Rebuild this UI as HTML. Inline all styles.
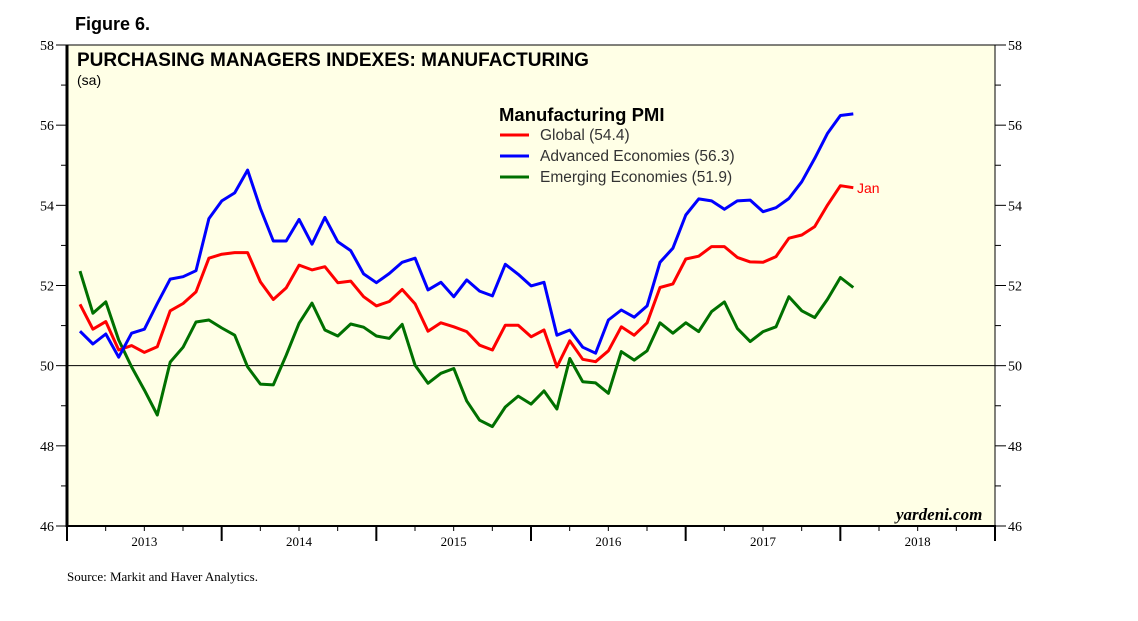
<!DOCTYPE html>
<html><head><meta charset="utf-8"><style>
body{margin:0;background:#fff;}
svg{display:block;font-family:"Liberation Sans",sans-serif;}
</style></head><body>
<svg id="chart" width="1138" height="621" viewBox="0 0 1138 621" xmlns="http://www.w3.org/2000/svg">
<rect x="0" y="0" width="1138" height="621" fill="#fff"/>
<text x="75" y="30" font-size="18" font-weight="bold">Figure 6.</text>
<rect x="67" y="45" width="928" height="481" fill="#FFFFE6" stroke="#000" stroke-width="1"/>
<line x1="67" y1="45" x2="67" y2="527" stroke="#000" stroke-width="3"/>
<line x1="66" y1="526" x2="996" y2="526" stroke="#000" stroke-width="2"/>
<g id="axes"></g>
<g id="series"></g>
<text x="77" y="66" font-size="19" font-weight="bold">PURCHASING MANAGERS INDEXES: MANUFACTURING</text>
<text x="77" y="85" font-size="14">(sa)</text>
<g>
<text x="499" y="121" font-size="18.5" font-weight="bold">Manufacturing PMI</text>
<line x1="500" y1="135" x2="529" y2="135" stroke="#f00" stroke-width="3"/>
<text x="540" y="140" font-size="15.5" fill="#333">Global (54.4)</text>
<line x1="500" y1="156" x2="529" y2="156" stroke="#00f" stroke-width="3"/>
<text x="540" y="161" font-size="15.5" fill="#333">Advanced Economies (56.3)</text>
<line x1="500" y1="177" x2="529" y2="177" stroke="#007000" stroke-width="3"/>
<text x="540" y="182" font-size="15.5" fill="#333">Emerging Economies (51.9)</text>
</g>
<text x="857" y="193" font-size="14" fill="#f00">Jan</text>
<text x="896" y="520" font-size="17" font-style="italic" font-weight="bold" font-family="Liberation Serif, serif">yardeni.com</text>
<text x="67" y="581" font-size="13" font-family="Liberation Serif, serif">Source: Markit and Haver Analytics.</text>
</svg>
<script>
const yTicks = [46,48,50,52,54,56,58];
const years = ["2013","2014","2015","2016","2017","2018"];
const globalPMI = [51.53,50.91,51.10,50.39,50.50,50.33,50.47,51.37,51.55,51.84,52.68,52.78,52.82,52.82,52.09,51.65,51.94,52.51,52.39,52.47,52.07,52.11,51.72,51.49,
51.60,51.90,51.54,50.86,51.07,50.97,50.85,50.51,50.39,51.01,51.01,50.72,50.89,49.97,50.62,50.16,50.10,50.37,50.97,50.76,51.07,51.95,
52.04,52.66,52.73,52.97,52.97,52.70,52.59,52.58,52.72,53.18,53.26,53.47,54.01,54.49,54.44];
const advancedPMI = [50.86,50.54,50.79,50.21,50.81,50.91,51.55,52.16,52.22,52.37,53.67,54.11,54.31,54.88,53.92,53.11,53.11,53.65,53.03,53.70,53.09,52.87,52.29,52.07,
52.30,52.58,52.68,51.89,52.08,51.72,52.14,51.86,51.74,52.53,52.28,51.99,52.08,50.76,50.89,50.46,50.31,51.14,51.39,51.21,51.49,52.58,
52.93,53.76,54.16,54.11,53.90,54.11,54.13,53.84,53.94,54.17,54.59,55.17,55.80,56.24,56.28];
const emergingPMI = [52.36,51.31,51.59,50.64,49.97,49.39,48.77,50.09,50.46,51.09,51.14,50.94,50.76,49.97,49.54,49.52,50.26,51.06,51.56,50.89,50.74,51.04,50.96,50.74,
50.68,51.03,50.01,49.56,49.81,49.93,49.12,48.64,48.48,48.97,49.24,49.04,49.37,48.92,50.18,49.60,49.57,49.31,50.35,50.14,50.37,51.07,
50.81,51.07,50.85,51.35,51.59,50.93,50.60,50.85,50.97,51.72,51.37,51.20,51.66,52.20,51.95];

const NS="http://www.w3.org/2000/svg";
const yMin=46,yMax=58,plotTop=45,plotBot=526,plotLeft=67,plotRight=995;
function yPos(v){return plotBot-(v-yMin)/(yMax-yMin)*(plotBot-plotTop);}
const yearW=(plotRight-plotLeft)/6;
function xPos(i){return 80+i*(yearW/12);}
function mk(tag,attrs,parent){const e=document.createElementNS(NS,tag);for(const k in attrs)e.setAttribute(k,attrs[k]);parent.appendChild(e);return e;}
const ax=document.getElementById('axes');
for(let v=yMin;v<=yMax;v++){
  const y=yPos(v);const major=v%2===0;
  mk('line',{x1:major?56:61,y1:y,x2:67,y2:y,stroke:'#000','stroke-width':1},ax);
  mk('line',{x1:995,y1:y,x2:major?1006:1001,y2:y,stroke:'#000','stroke-width':1},ax);
}
yTicks.forEach(v=>{
  const y=yPos(v);
  const l=mk('text',{x:54,y:y+5,'font-size':14,'text-anchor':'end','font-family':'Liberation Serif, serif'},ax);l.textContent=v;
  
  
  const r=mk('text',{x:1008,y:y+5,'font-size':14,'font-family':'Liberation Serif, serif'},ax);r.textContent=v;
  
  
});
const zl=mk('line',{x1:67,y1:yPos(50),x2:995,y2:yPos(50),stroke:'#000','stroke-width':1},ax);


for(let k=0;k<=6;k++){
  const x=plotLeft+k*yearW;
  mk('line',{x1:x,y1:526,x2:x,y2:541,stroke:'#000','stroke-width':2},ax);
  if(k<6){for(let q=1;q<4;q++){const xq=x+q*yearW/4;mk('line',{x1:xq,y1:526,x2:xq,y2:531,stroke:'#000','stroke-width':1},ax);}}
}
years.forEach((yr,k)=>{
  const t=mk('text',{x:plotLeft+(k+0.5)*yearW,y:546,'font-size':13,'text-anchor':'middle','font-family':'Liberation Serif, serif'},ax);t.textContent=yr;
  
  
});
const sg=document.getElementById('series');
function line(data,color,name){
  const p=mk('polyline',{points:data.map((v,i)=>xPos(i).toFixed(1)+','+yPos(v).toFixed(1)).join(' '),fill:'none',stroke:color,'stroke-width':3,'stroke-linejoin':'round'},sg);
  
  
}
line(emergingPMI,'#007000','emerging-line');
line(globalPMI,'#ff0000','global-line');
line(advancedPMI,'#0000ff','advanced-line');
</script>
</body></html>
